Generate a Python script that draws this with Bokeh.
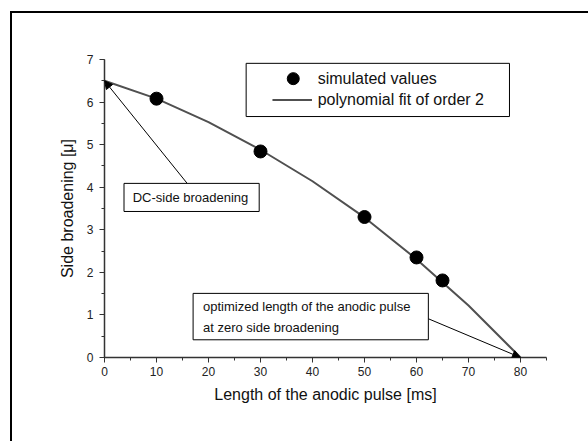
from bokeh.plotting import figure
from bokeh.models import Range1d, BoxAnnotation, Label, Arrow, NormalHead, SingleIntervalTicker
from bokeh.embed import file_html
from bokeh.resources import INLINE

# data
sim_x = [10, 30, 50, 60, 65]
sim_y = [6.08, 4.84, 3.30, 2.35, 1.81]
fit_x = [0, 10, 20, 30, 40, 50, 60, 70, 80]
fit_y = [6.50, 6.08, 5.53, 4.88, 4.14, 3.29, 2.31, 1.22, 0.0]
x_label = "Length of the anodic pulse [ms]"
y_label = "Side broadening [\u03bc]"
legend_labels = ["simulated values", "polynomial fit of order 2"]
note_dc = "DC-side broadening"
note_opt = "optimized length of the anodic pulse\nat zero side broadening"

FONT = "Liberation Sans"
AX = "#333333"

p = figure(width=588, height=441, output_backend="svg", toolbar_location=None,
           x_range=Range1d(0, 85), y_range=Range1d(0, 7),
           min_border_left=104, min_border_right=42, min_border_top=59, min_border_bottom=84)
# the picture's outer frame (only its left and top edges visible), drawn behind a transparent border area
p.styles = {"box-shadow": "inset 10px 11px 0px 0px white, inset 12px 13px 0px 0px black",
            "background-color": "white"}
p.border_fill_color = "white"
p.border_fill_alpha = 0
p.outline_line_color = None
p.grid.visible = False
p.background_fill_color = "white"

for ax in (p.xaxis[0], p.yaxis[0]):
    ax.axis_line_color = AX
    ax.axis_line_width = 1.5
    ax.major_tick_line_color = AX
    ax.minor_tick_line_color = AX
    ax.major_tick_out = 5
    ax.major_tick_in = 0
    ax.minor_tick_out = 3
    ax.minor_tick_in = 0
    ax.major_label_text_font = FONT
    ax.major_label_text_font_size = "12px"
    ax.major_label_text_color = "#222222"
    ax.axis_label_text_font = FONT
    ax.axis_label_text_font_size = "16px"
    ax.axis_label_text_font_style = "normal"
    ax.axis_label_text_color = "#111111"

p.xaxis[0].ticker = SingleIntervalTicker(interval=10, num_minor_ticks=2)
p.yaxis[0].ticker = SingleIntervalTicker(interval=1, num_minor_ticks=2)
p.xaxis[0].axis_label = x_label
p.yaxis[0].axis_label = y_label
p.xaxis[0].major_label_standoff = 4
p.yaxis[0].major_label_standoff = 6
p.xaxis[0].axis_label_standoff = 7
p.yaxis[0].axis_label_standoff = 8

# fit line and points
p.line(fit_x, fit_y, line_color="#505050", line_width=2)
p.scatter(sim_x, sim_y, size=13, fill_color="black", line_color="black")

# legend box (manual)
p.add_layout(BoxAnnotation(left=27.24, right=77.88, top=6.91, bottom=5.66,
                           fill_color="white", fill_alpha=1, line_color="black", line_alpha=1, line_width=1))
p.scatter([36.3], [6.55], size=12, fill_color="black", line_color="black", level="overlay")
p.segment(x0=[32.3], y0=[6.05], x1=[39.9], y1=[6.05], line_color="#505050", line_width=2, level="overlay")
p.add_layout(Label(x=41.0, y=6.55, text=legend_labels[0], text_font=FONT, text_font_size="16px",
                   text_baseline="middle", text_color="#111111"))
p.add_layout(Label(x=41.0, y=6.05, text=legend_labels[1], text_font=FONT, text_font_size="16px",
                   text_baseline="middle", text_color="#111111"))

# DC-side annotation
p.add_layout(Arrow(x_start=15.9, y_start=4.09, x_end=0, y_end=6.5, line_color="black", line_width=1,
                   end=NormalHead(size=8, fill_color="black", line_color="black")))
p.add_layout(BoxAnnotation(left=3.75, right=29.75, top=4.09, bottom=3.43,
                           fill_color="white", fill_alpha=1, line_color="black", line_alpha=1, line_width=1))
p.add_layout(Label(x=5.42, y=3.76, text=note_dc, text_font=FONT, text_font_size="13px",
                   text_baseline="middle", text_color="#111111"))

# optimized length annotation
p.add_layout(Arrow(x_start=62.28, y_start=0.91, x_end=80, y_end=0, line_color="black", line_width=1,
                   end=NormalHead(size=8, fill_color="black", line_color="black")))
p.add_layout(BoxAnnotation(left=17.04, right=62.28, top=1.506, bottom=0.416,
                           fill_color="white", fill_alpha=1, line_color="black", line_alpha=1, line_width=1))
p.add_layout(Label(x=18.94, y=0.94, text=note_opt, text_font=FONT, text_font_size="13px",
                   text_baseline="middle", text_line_height=1.4, text_color="#111111"))

open("out.html", "w").write(file_html(p, INLINE))
